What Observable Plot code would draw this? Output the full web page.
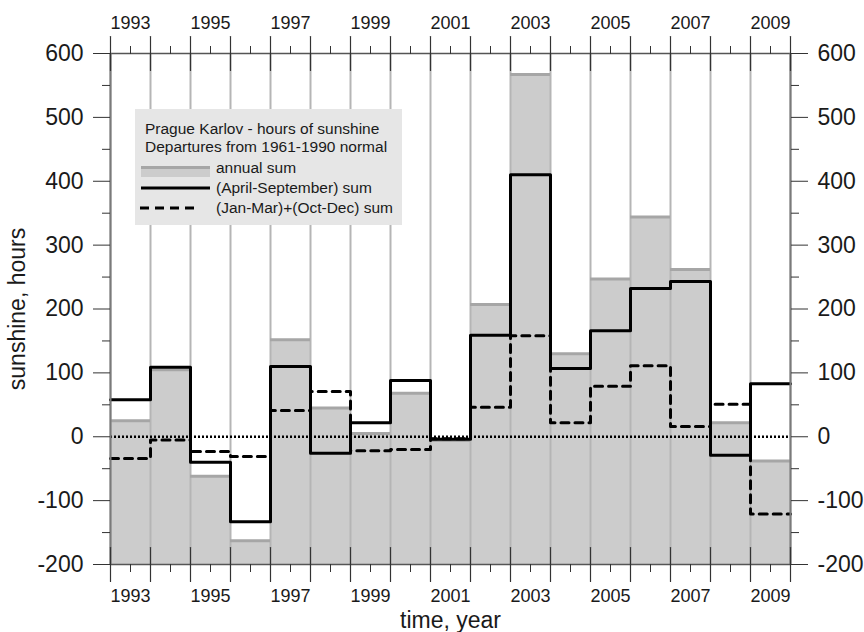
<!DOCTYPE html>
<html>
<head>
<meta charset="utf-8">
<script src="https://cdn.jsdelivr.net/npm/d3@7"></script>
<script src="https://cdn.jsdelivr.net/npm/@observablehq/plot@0.6"></script>
<style>
  body { margin: 0; background: #fff; font-family: Arial, "Liberation Sans", sans-serif; }
  #wrap { position: relative; width: 864px; height: 632px; }
  #legend { position: absolute; left: 135px; top: 109px; }
</style>
</head>
<body>
<div id="wrap">
  <div id="chart"></div>
  <div id="legend"></div>
</div>
<script>
// ---- data (departures from 1961-1990 normal, hours) ----
const years = [1993,1994,1995,1996,1997,1998,1999,2000,2001,2002,2003,2004,2005,2006,2007,2008,2009];
const annualSum = [25,105,-62,-163,152,45,5,68,-6,207,567,130,247,344,262,22,-38];
const aprSepSum = [58,109,-40,-133,110,-26,22,88,-4,159,410,107,166,232,243,-29,83];
const winterSum = [-34,-5,-23,-31,41,71,-22,-20,-3,46,158,22,79,111,16,51,-121];
const yearLabels = [1993,1995,1997,1999,2001,2003,2005,2007,2009];
const yTicks = [-200,-100,0,100,200,300,400,500,600];
const yMinor = [-150,-50,50,150,250,350,450,550];
const titleLines = ["Prague Karlov - hours of sunshine", "Departures from 1961-1990 normal"];
const seriesNames = ["annual sum", "(April-September) sum", "(Jan-Mar)+(Oct-Dec) sum"];

const data = years.map((y, i) => ({year: y, annual: annualSum[i], aprsep: aprSepSum[i], winter: winterSum[i]}));
const xStart = years[0] - 0.5, xEnd = years[years.length - 1] + 0.5;
const edges = years.map(y => y - 0.5).concat([xEnd]);
function stepPoints(vals) {
  const pts = years.map((y, i) => ({x: y - 0.5, y: vals[i]}));
  pts.push({x: xEnd, y: vals[vals.length - 1]});
  return pts;
}
const crossTick = { draw(ctx, l) { ctx.moveTo(0, -l); ctx.lineTo(0, l); } };
const fmt = d => String(d);
const tickColor = "#333";

const chart = Plot.plot({
  width: 864,
  height: 632,
  marginLeft: 110,
  marginRight: 74,
  marginTop: 53,
  marginBottom: 68,
  x: {domain: [xStart, xEnd]},
  y: {domain: [-200, 600]},
  style: {fontFamily: "Arial, 'Liberation Sans', sans-serif", color: "#1a1a1a", background: "white", overflow: "visible"},
  marks: [
    Plot.rectY(data, {x1: d => d.year - 0.5, x2: d => d.year + 0.5, y1: -200, y2: "annual", fill: "#cccccc"}),
    Plot.ruleX(edges, {stroke: "#b5b5b5", strokeWidth: 2}),
    Plot.ruleY(data, {y: "annual", x1: d => d.year - 0.5, x2: d => d.year + 0.5, stroke: "#a6a6a6", strokeWidth: 3}),
    Plot.ruleY([0], {stroke: "black", strokeWidth: 2.5, strokeDasharray: "2,2"}),
    Plot.line(stepPoints(winterSum), {x: "x", y: "y", curve: "step-after", stroke: "black", strokeWidth: 3, strokeDasharray: "8,6"}),
    Plot.line(stepPoints(aprSepSum), {x: "x", y: "y", curve: "step-after", stroke: "black", strokeWidth: 3}),
    // frame
    Plot.ruleY([600, -200], {stroke: "#555", strokeWidth: 1.5}),
    Plot.ruleX([xStart, xEnd], {stroke: "#7a7a7a", strokeWidth: 2}),
    // y axes
    Plot.axisY(yTicks, {anchor: "left", tickSize: 17, tickPadding: 10, fontSize: 23, tickFormat: fmt, stroke: tickColor,
      label: "sunshine, hours", labelAnchor: "center", labelArrow: "none", labelOffset: 102}),
    Plot.axisY(yMinor, {anchor: "left", tickSize: 8, fill: "none", stroke: tickColor, label: null}),
    Plot.axisY(yTicks, {anchor: "right", tickSize: 17, tickPadding: 10, fontSize: 23, tickFormat: fmt, stroke: tickColor, label: null}),
    Plot.axisY(yMinor, {anchor: "right", tickSize: 8, fill: "none", stroke: tickColor, label: null}),
    // x axes
    Plot.vector(edges, {x: d => d, frameAnchor: "top", anchor: "start", length: 17, shape: crossTick, stroke: tickColor, strokeWidth: 1.2}),
    Plot.vector(edges, {x: d => d, frameAnchor: "bottom", anchor: "start", length: 17, shape: crossTick, stroke: tickColor, strokeWidth: 1.2}),
    Plot.axisX(years, {anchor: "top", tickSize: 8, fill: "none", stroke: tickColor, label: null}),
    Plot.axisX(years, {anchor: "bottom", tickSize: 8, fill: "none", stroke: tickColor, label: null}),
    Plot.axisX(yearLabels, {anchor: "top", tickSize: 0, tickPadding: 25, fontSize: 18, tickFormat: fmt, label: null}),
    Plot.axisX(yearLabels, {anchor: "bottom", tickSize: 0, tickPadding: 25, fontSize: 18, tickFormat: fmt, label: null}),
    Plot.axisX([], {anchor: "bottom", tickSize: 0, fontSize: 23, label: "time, year", labelAnchor: "center", labelArrow: "none", labelOffset: 63})
  ]
});
document.getElementById("chart").appendChild(chart);

// ---- legend box (overlay) ----
const lg = d3.select("#legend").append("svg").attr("width", 267).attr("height", 116)
  .style("font-family", "Arial, 'Liberation Sans', sans-serif").style("font-size", "15.5px");
lg.append("rect").attr("width", 267).attr("height", 116).attr("fill", "#e6e6e6");
lg.selectAll("text.title").data(titleLines).join("text")
  .attr("x", 10).attr("y", (d, i) => 25 + i * 18).attr("fill", "#1a1a1a").text(d => d);
const rowsY = [64, 84, 104];
lg.selectAll("text.item").data(seriesNames).join("text")
  .attr("x", 81).attr("y", (d, i) => rowsY[i]).attr("fill", "#1a1a1a").text(d => d);
lg.append("rect").attr("x", 6).attr("y", 57).attr("width", 69).attr("height", 11).attr("fill", "#cccccc");
lg.append("line").attr("x1", 6).attr("x2", 75).attr("y1", 58.5).attr("y2", 58.5).attr("stroke", "#a6a6a6").attr("stroke-width", 3);
lg.append("line").attr("x1", 6).attr("x2", 75).attr("y1", 79).attr("y2", 79).attr("stroke", "black").attr("stroke-width", 3);
lg.append("line").attr("x1", 5).attr("x2", 65).attr("y1", 99).attr("y2", 99).attr("stroke", "black").attr("stroke-width", 3).attr("stroke-dasharray", "9,6");
</script>
</body>
</html>
